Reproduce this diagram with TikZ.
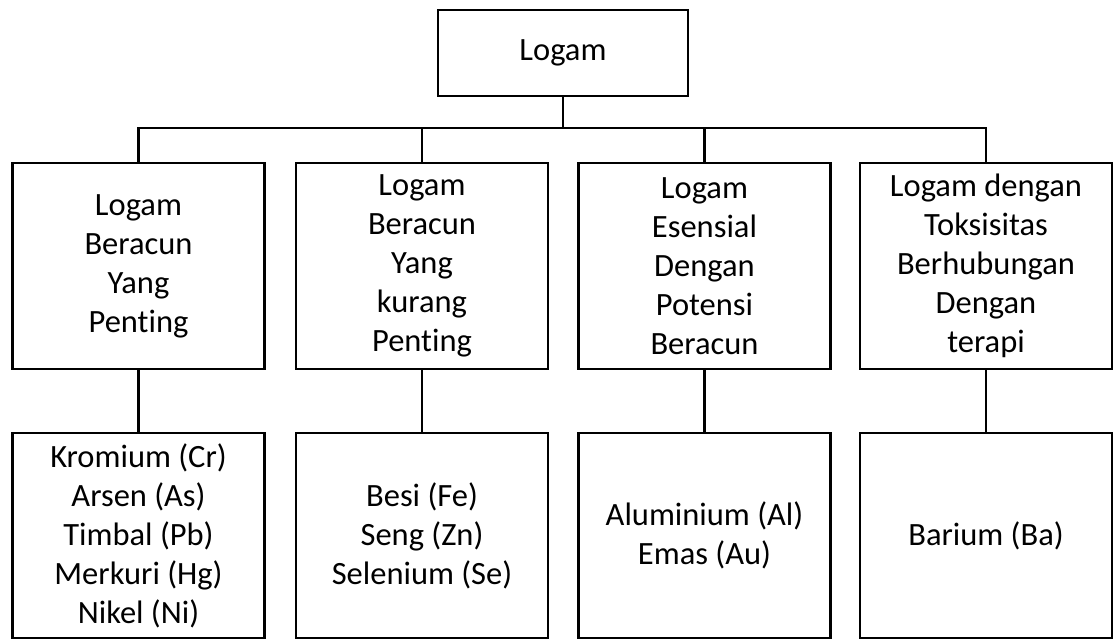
\documentclass[tikz,border=0pt]{standalone}
\usepackage{fontspec}
\setmainfont{Carlito}[Ligatures=NoCommon]
\usepackage{tikz}
\usetikzlibrary{positioning, calc}

\tikzset{
    kotak/.style={draw, line width=2.8pt, align=center, inner sep=0pt,
        font=\fontsize{32.5}{39}\selectfont},
    kotakatas/.style={kotak, minimum width=250pt, minimum height=86pt},
    kotakjenis/.style={kotak, minimum width=252pt, minimum height=206pt},
    garis/.style={line width=2.5pt}
}

\begin{document}
\begin{tikzpicture}[x=1pt, y=-1pt]
    \useasboundingbox (0,0) rectangle (1116,640);

    % akar
    \node[kotakatas] (logam) at (563,53) {Logam};
    \coordinate (bus) at (563,128);

    % jenis logam
    \node[kotakjenis] (jenisA) at (138.5,266) {Logam\\ Beracun\\ Yang\\ Penting};
    \node[kotakjenis] (jenisB) at (422,266) {Logam\\ Beracun\\ Yang\\ kurang\\ Penting};
    \node[kotakjenis] (jenisC) at (704.5,266) {Logam\\ Esensial\\ Dengan\\ Potensi\\ Beracun};
    \node[kotakjenis] (jenisD) at (986,266) {Logam dengan\\ Toksisitas\\ Berhubungan\\ Dengan\\ terapi};

    % contoh logam
    \node[kotakjenis, minimum height=205pt] (contohA) at (138.5,535.5) {Kromium (Cr)\\ Arsen (As)\\ Timbal (Pb)\\ Merkuri (Hg)\\ Nikel (Ni)};
    \node[kotakjenis, minimum height=205pt] (contohB) at (422,535.5) {Besi (Fe)\\ Seng (Zn)\\ Selenium (Se)};
    \node[kotakjenis, minimum height=205pt] (contohC) at (704.5,535.5) {Aluminium (Al)\\ Emas (Au)};
    \node[kotakjenis, minimum height=205pt] (contohD) at (986,535.5) {Barium (Ba)};

    % garis penghubung
    \draw[garis] (logam.south) -- (bus);
    \draw[garis] (jenisA.north) |- (bus) -| (jenisD.north);
    \draw[garis] (jenisB.north) -- (jenisB.north |- bus);
    \draw[garis] (jenisC.north) -- (jenisC.north |- bus);
    \draw[garis] (jenisA.south) -- (contohA.north);
    \draw[garis] (jenisB.south) -- (contohB.north);
    \draw[garis] (jenisC.south) -- (contohC.north);
    \draw[garis] (jenisD.south) -- (contohD.north);
\end{tikzpicture}
\end{document}
